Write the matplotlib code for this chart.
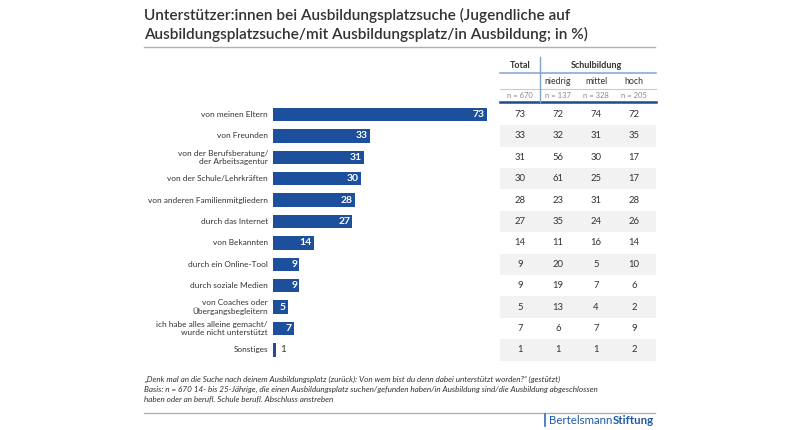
import matplotlib.pyplot as plt

plt.rcParams['font.family'] = ['Lato', 'DejaVu Sans']

# chart data
labels = ["von meinen Eltern", "von Freunden", "von der Berufsberatung/\nder Arbeitsagentur",
          "von der Schule/Lehrkräften", "von anderen Familienmitgliedern", "durch das Internet",
          "von Bekannten", "durch ein Online-Tool", "durch soziale Medien",
          "von Coaches oder\nÜbergangsbegleitern", "ich habe alles alleine gemacht/\nwurde nicht unterstützt",
          "Sonstiges"]
total = [73, 33, 31, 30, 28, 27, 14, 9, 9, 5, 7, 1]
niedrig = [72, 32, 56, 61, 23, 35, 11, 20, 19, 13, 6, 1]
mittel = [74, 31, 30, 25, 31, 24, 16, 5, 7, 4, 7, 1]
hoch = [72, 35, 17, 17, 28, 26, 14, 10, 6, 2, 9, 2]
col_heads = ["", "niedrig", "mittel", "hoch"]
n_labels = ["n = 670", "n = 137", "n = 328", "n = 205"]

title = ("Unterstützer:innen bei Ausbildungsplatzsuche (Jugendliche auf\n"
         "Ausbildungsplatzsuche/mit Ausbildungsplatz/in Ausbildung; in %)")
footnote = ("„Denk mal an die Suche nach deinem Ausbildungsplatz (zurück): Von wem bist du denn dabei unterstützt worden?“ (gestützt)\n"
            "Basis: n = 670 14- bis 25-Jährige, die einen Ausbildungsplatz suchen/gefunden haben/in Ausbildung sind/die Ausbildung abgeschlossen\n"
            "haben oder an berufl. Schule berufl. Abschluss anstreben")

BLUE = '#1c4f9c'
DARK = '#333333'
LOGO = '#1d5aa6'
W, H = 786, 430


def box(x0, y0, x1, y1):
    # pixel box (top-left origin) -> figure fraction rect
    return [x0 / W, 1 - y1 / H, (x1 - x0) / W, (y1 - y0) / H]


def fit_width(texts, ref, target_px):
    # scale font size of texts so that ref is target_px wide
    r = fig.canvas.get_renderer()
    w = ref.get_window_extent(r).width
    for t in texts:
        t.set_fontsize(t.get_fontsize() * target_px / w)


fig = plt.figure(figsize=(W / 100, H / 100), dpi=100)

# overlay in pixel units for title, rules, header, footer
ov = fig.add_axes([0, 0, 1, 1])
ov.set_xlim(0, W)
ov.set_ylim(H, 0)
ov.axis('off')

t_title = ov.text(144, 25, title, fontsize=12, fontweight='semibold', color=DARK,
                  ha='left', va='center', linespacing=1.4)
fit_width([t_title], t_title, 443)
ov.plot([144, 655], [47, 47], color='#b0b0b0', lw=1)

# bars
row_h = 21.4
y_top = 114.5 - row_h / 2
y_bot = 114.5 + 11.5 * row_h
ax = fig.add_axes(box(273, y_top, 487, y_bot))
ax.barh(range(len(total)), total, height=0.62, color=BLUE)
ax.set_xlim(0, 73)
ax.set_ylim(len(total) - 0.5, -0.5)
ax.axis('off')
cat_texts = []
for i, (lab, v) in enumerate(zip(labels, total)):
    cat_texts.append(ax.annotate(lab, (0, i), xytext=(-5, 0), textcoords='offset pixels',
                                 ha='right', va='center', fontsize=6, color=DARK, linespacing=1.15))
    if v >= 3:
        ax.annotate(str(v), (v, i), xytext=(-2, 0), textcoords='offset pixels',
                    ha='right', va='center', fontsize=7.5, color='white', fontweight='bold')
    else:
        ax.annotate(str(v), (v, i), xytext=(4, 0), textcoords='offset pixels',
                    ha='left', va='center', fontsize=7, color=DARK)
fit_width(cat_texts, cat_texts[4], 120)

# table
tab = fig.add_axes(box(500, y_top, 656, y_bot))
tab.set_xlim(-20 / 38, 136 / 38)
tab.set_ylim(len(total) - 0.5, -0.5)
tab.axis('off')
for i in range(1, len(total), 2):
    tab.axhspan(i - 0.5, i + 0.5, color='#f2f2f2', lw=0)
for j, col in enumerate([total, niedrig, mittel, hoch]):
    for i, v in enumerate(col):
        tab.text(j, i, str(v), ha='center', va='center', fontsize=6.8, color=DARK)

# table header
col_x = [520, 558, 596, 634]
ov.text(col_x[0], 66, "Total", ha='center', va='center', fontsize=6.5, fontweight='bold', color=DARK)
ov.text(596, 66, "Schulbildung", ha='center', va='center', fontsize=6.5, fontweight='bold', color=DARK)
for x, h, n in zip(col_x, col_heads, n_labels):
    ov.text(x, 81.5, h, ha='center', va='center', fontsize=6.3, color=DARK)
    ov.text(x, 95.5, n, ha='center', va='center', fontsize=5.5, color='#8a8a8a')
ov.plot([500, 656], [73, 73], color='#7fa3cf', lw=1.1)
ov.plot([500, 656], [88.5, 88.5], color='#b9cde4', lw=0.8)
ov.plot([500, 656], [102, 102], color='#1f4b86', lw=1.8)
ov.plot([539.5, 539.5], [57, 102], color='#7fa3cf', lw=1)

# footer
t_foot = ov.text(144, 389, footnote, ha='left', va='center', fontsize=5.5, style='italic',
                 color=DARK, linespacing=1.5)
fit_width([t_foot], t_foot, 453)
ov.plot([144, 655], [413, 413], color='#b0b0b0', lw=1)
ov.plot([544.5, 544.5], [414, 426], color='#2f6db5', lw=1.2)

# logo text: size chosen so both words span ~104 px
r = fig.canvas.get_renderer()
w1 = ov.text(0, 0, "Bertelsmann", fontsize=10).get_window_extent(r).width
w2 = ov.text(0, 0, "Stiftung", fontsize=10, fontweight='bold').get_window_extent(r).width
for t in ov.texts[-2:]:
    t.remove()
logo_fs = 10 * 104 / (w1 + w2)
ov.text(549, 420, "Bertelsmann", ha='left', va='center', fontsize=logo_fs, color=LOGO)
ov.text(549 + w1 * logo_fs / 10, 420, "Stiftung", ha='left', va='center',
        fontsize=logo_fs, fontweight='bold', color=LOGO)

fig.savefig('out.png', dpi=100)
